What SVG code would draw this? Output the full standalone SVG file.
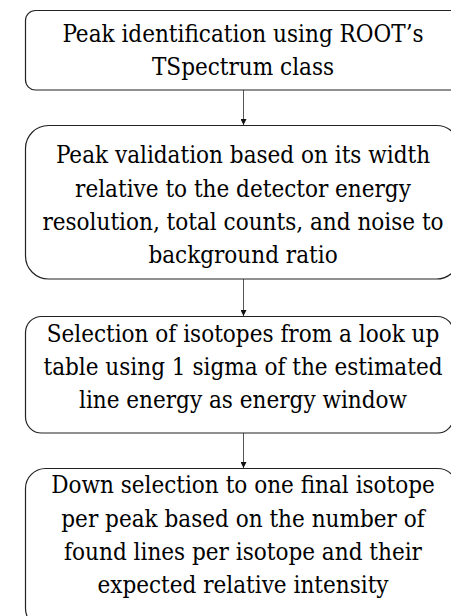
<svg xmlns="http://www.w3.org/2000/svg" width="451" height="616" viewBox="0 0 451 616">
<defs>
<style>
.box{fill:#fff;stroke:#222;stroke-width:1.2}
.t{font-family:'DejaVu Serif Condensed','DejaVu Serif',serif;font-stretch:condensed;font-size:24px;fill:#000;text-anchor:middle}
.c{stroke:#555;stroke-width:1;fill:none}
</style>
<marker id="ah" viewBox="0 0 6 6" refX="6" refY="3" markerWidth="6" markerHeight="6" markerUnits="userSpaceOnUse" orient="auto">
<path d="M0,0 L6,3 L0,6 z" fill="#111"/>
</marker>
</defs>
<rect width="451" height="616" fill="#fff"/>
<g id="connectors">
<line class="c" x1="243.5" y1="90" x2="243.5" y2="125" marker-end="url(#ah)"/>
<line class="c" x1="243.5" y1="279" x2="243.5" y2="316" marker-end="url(#ah)"/>
<line class="c" x1="243.5" y1="433" x2="243.5" y2="468" marker-end="url(#ah)"/>
</g>
<g id="node1">
<rect class="box" x="25.5" y="10.5" width="436" height="79.5" rx="10"/>
<text class="t" x="243" y="42">Peak identification using ROOT’s</text>
<text class="t" x="243" y="75">TSpectrum class</text>
</g>
<g id="node2">
<rect class="box" x="25.5" y="125.5" width="434" height="153.5" rx="23"/>
<text class="t" x="243" y="163">Peak validation based on its width</text>
<text class="t" x="243" y="197">relative to the detector energy</text>
<text class="t" x="243" y="230">resolution, total counts, and noise to</text>
<text class="t" x="243" y="263">background ratio</text>
</g>
<g id="node3">
<rect class="box" x="25.5" y="316.5" width="428" height="116.5" rx="16"/>
<text class="t" x="243" y="342">Selection of isotopes from a look up</text>
<text class="t" x="243" y="375">table using 1 sigma of the estimated</text>
<text class="t" x="243" y="408">line energy as energy window</text>
</g>
<g id="node4">
<rect class="box" x="25.5" y="468.5" width="432" height="160" rx="20"/>
<text class="t" x="243" y="493">Down selection to one final isotope</text>
<text class="t" x="243" y="527">per peak based on the number of</text>
<text class="t" x="243" y="560">found lines per isotope and their</text>
<text class="t" x="243" y="593">expected relative intensity</text>
</g>
</svg>
